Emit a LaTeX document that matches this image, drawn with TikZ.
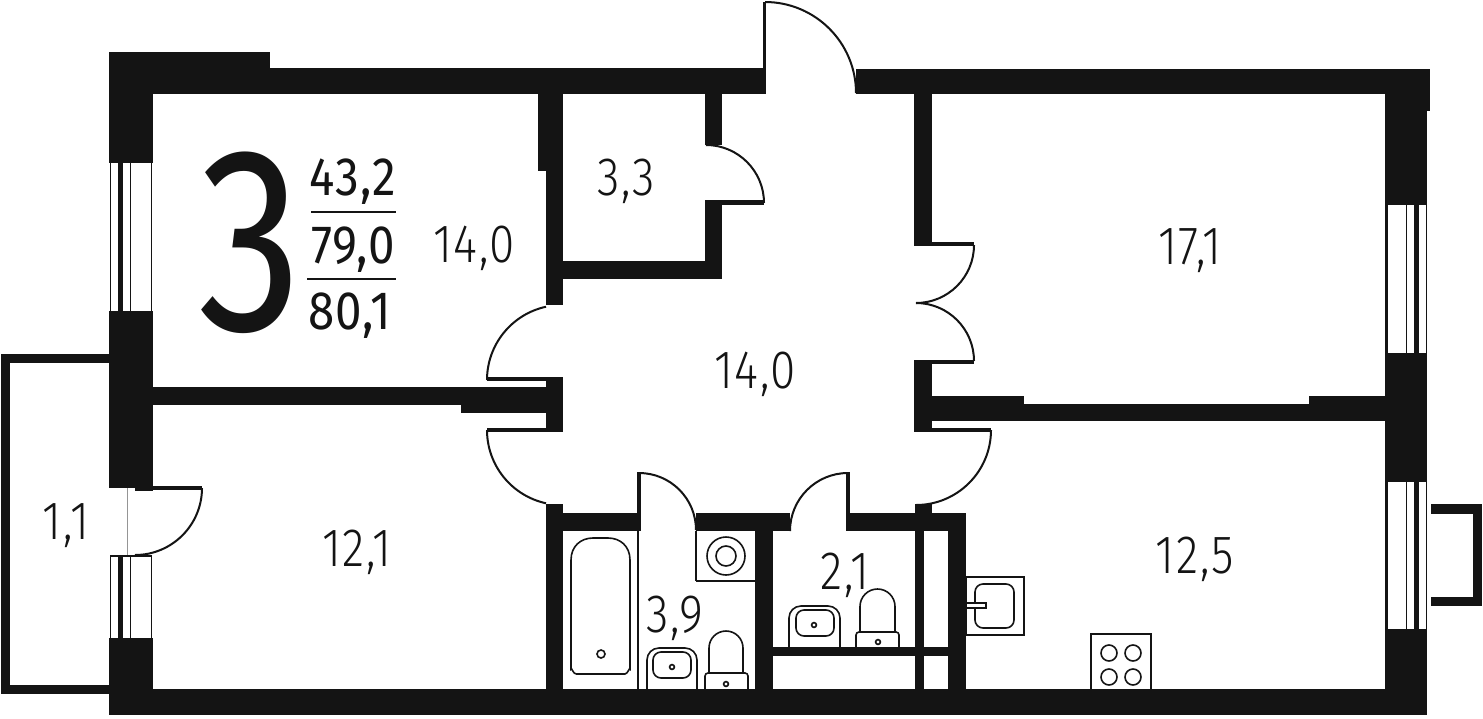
\documentclass[tikz,border=0pt]{standalone}
\usepackage{fontspec}
\newfontfamily\lab[FakeStretch=0.85,LetterSpace=3]{Fira Sans Light}
\newfontfamily\labm[FakeStretch=0.88,LetterSpace=2]{Fira Sans}
\newfontfamily\labbig[FakeStretch=0.79]{Fira Sans}
\definecolor{ink}{HTML}{141414}
\tikzset{
  wall/.style={fill=ink,draw=none},
  leaf/.style={draw=ink,line width=2pt},
  fix/.style={draw=ink,line width=1.6pt},
  thin/.style={draw=ink,line width=1.2pt},
  room/.style={inner sep=0pt,anchor=base,text=ink,font=\lab\fontsize{54}{54}\selectfont},
  area/.style={inner sep=0pt,anchor=base,text=ink,font=\labm\fontsize{54}{54}\selectfont},
}
\newcommand{\Rct}[4]{\fill[wall] (#1,#2) rectangle (#3,#4);}
\begin{document}
\begin{tikzpicture}[x=1pt,y=-1pt]
\useasboundingbox (0,0) rectangle (1483,718);
\fill[white] (0,0) rectangle (1483,718);

% outer walls
\Rct{109}{52}{270}{94}
\Rct{109}{68}{766}{94}
\Rct{856}{69}{1430}{94}
\Rct{1385}{69}{1430}{111}
\Rct{109}{52}{153}{163}
\Rct{109}{311}{153}{488}
\Rct{135}{486}{153}{491}
\Rct{109}{638}{153}{715}
\Rct{109}{689}{1427}{715}
\Rct{1385}{94}{1427}{205}
\Rct{1385}{353}{1427}{482}
\Rct{1385}{629}{1427}{715}

% entrance leaf
\Rct{763}{2}{766}{94}
\draw[leaf] (765,2) arc[start angle=270,end angle=360,radius=91];

% room 14,0 / 3,3 partitions
\Rct{538}{94}{563}{171}
\Rct{546}{171}{563}{305}
\Rct{705}{94}{722}{145}
\Rct{705}{201}{722}{279}
\Rct{563}{261}{722}{279}
\Rct{705}{200}{764}{205}
\draw[leaf] (706,145) arc[start angle=270,end angle=360,radius=58];

% left bedroom partition
\Rct{153}{387}{546}{405}
\Rct{461}{387}{546}{413}
\Rct{546}{377}{563}{432}
\Rct{487}{377}{546}{381}
\Rct{487}{428}{546}{432}
\draw[leaf] (487,380) arc[start angle=180,end angle=257.7,radius=75];
\draw[leaf] (487,430) arc[start angle=180,end angle=102.3,radius=75];

% right hall wall
\Rct{914}{94}{932}{245}
\Rct{914}{242}{974}{246}
\Rct{914}{360}{932}{432}
\Rct{932}{360}{974}{364}
\Rct{932}{428}{991}{432}
\Rct{932}{396}{1024}{421}
\Rct{1024}{404}{1385}{421}
\Rct{1309}{396}{1385}{421}
\draw[leaf] (974,245) arc[start angle=0,end angle=90,radius=58];
\draw[leaf] (916,303) arc[start angle=270,end angle=360,radius=58];
\draw[leaf] (991,430) arc[start angle=0,end angle=90,radius=75];

% wet-room block
\Rct{546}{504}{563}{689}
\Rct{546}{513}{640}{531}
\Rct{637}{472}{641}{531}
\draw[leaf] (639,473) arc[start angle=270,end angle=360,radius=57];
\Rct{696}{513}{790}{531}
\Rct{755}{513}{773}{689}
\Rct{846}{472}{850}{531}
\draw[leaf] (848,473) arc[start angle=270,end angle=180,radius=58];
\Rct{846}{513}{966}{531}
\Rct{915}{504}{932}{531}
\Rct{915}{513}{924}{689}
\Rct{948}{513}{966}{689}
\Rct{773}{647}{948}{656}

% balcony left
\Rct{1}{354}{109}{363}
\Rct{1}{354}{10}{694}
\Rct{1}{685}{109}{694}
\draw[draw=ink!45,line width=0.8pt] (127,488) -- (127,556);
\draw[leaf] (202,488) arc[start angle=0,end angle=90,radius=67];
\Rct{135}{486}{202}{490}

% balcony right
\Rct{1431}{504}{1482}{514}
\Rct{1473}{504}{1482}{606}
\Rct{1431}{597}{1482}{606}

% windows, left
\foreach \ya/\yb in {163/311,556/638}{
  \draw[thin] (110.5,\ya) -- (110.5,\yb);
  \fill[ink] (118,\ya) rectangle (123,\yb);
  \draw[thin] (130.5,\ya) -- (130.5,\yb);
  \draw[thin] (151.5,\ya) -- (151.5,\yb);
}
\draw[thin] (110,556) -- (152,556);
% windows, right
\foreach \ya/\yb in {205/353,482/629}{
  \fill[ink] (1385,\ya) rectangle (1387.5,\yb);
  \draw[thin] (1406.5,\ya) -- (1406.5,\yb);
  \fill[ink] (1414,\ya) rectangle (1419,\yb);
  \draw[thin] (1426.5,\ya) -- (1426.5,\yb);
}

% bathroom fixtures
\draw[thin] (638,531) -- (638,689);
\draw[fix] (576,674) -- (625,674) to[out=0,in=90] (630,669) -- (630,560)
   .. controls (630,546) and (620,538) .. (608,538) -- (593,538)
   .. controls (581,538) and (571,546) .. (571,560) -- (571,669) to[out=90,in=180] (576,674);
\draw[fix] (601,654) circle[radius=4];
\draw[fix] (696,581) -- (755,581);
\draw[fix] (696,531) -- (696,581);
\draw[fix] (726,556) circle[radius=19];
\draw[fix] (726,556) circle[radius=10];

% sink 1
\draw[fix] (647,689) -- (647,660) arc[start angle=180,end angle=270,radius=12] -- (685,648) arc[start angle=270,end angle=360,radius=12] -- (697,689);
\draw[fix,rounded corners=8pt] (653,652) rectangle (691,678);
\draw[fix] (672,667) circle[radius=2.4];
% toilet 1
\draw[fix] (709,673) -- (709,648) arc[start angle=180,end angle=360,radius=17] -- (743,673);
\draw[fix,rounded corners=3pt] (705,689) -- (705,673) -- (748,673) -- (748,689);
\draw[fix] (726,684) circle[radius=2.4];
% sink 2
\draw[fix] (789,647) -- (789,618) arc[start angle=180,end angle=270,radius=12] -- (828,606) arc[start angle=270,end angle=360,radius=12] -- (840,647);
\draw[fix,rounded corners=8pt] (796,610) rectangle (834,636);
\draw[fix] (814,625) circle[radius=2.4];
% toilet 2
\draw[fix] (860,632) -- (860,606.5) arc[start angle=180,end angle=360,radius=17.5] -- (895,632);
\draw[fix,rounded corners=3pt] (856,647) -- (856,632) -- (899,632) -- (899,647);
\draw[fix] (878,642) circle[radius=2.4];

% kitchen
\draw[thin] (966,577) rectangle (1024,635);
\draw[fix,rounded corners=8pt] (975,584) rectangle (1014,628);
\draw[thin,fill=white] (966,603) rectangle (986,608);
\draw[thin] (1091,689) -- (1091,634) -- (1151,634) -- (1151,689);
\foreach \cx in {1109,1133}\foreach \cy in {653,677}{
  \draw[fix] (\cx,\cy) circle[radius=8];
}

% summary lines
\draw[draw=ink,line width=1.2pt] (311,212) -- (396,212);
\draw[draw=ink,line width=1.2pt] (307,279) -- (396,279);

% texts
\node[inner sep=0pt,anchor=base,text=ink,font=\labbig\fontsize{263}{263}\selectfont] (rooms) at (250,330) {3};
\node[area] (living) at (353,195) {43,2};
\node[area] (total) at (353,263) {79,0};
\node[area] (totalb) at (350,329) {80,1};
\node[room] (r1) at (474,262) {14,0};
\node[room] (r2) at (626,195) {3,3};
\node[room] (r3) at (1190,264) {17,1};
\node[room] (r4) at (755,388) {14,0};
\node[room] (r5) at (66,539) {1,1};
\node[room] (r6) at (357,566) {12,1};
\node[room] (r7) at (845,589) {2,1};
\node[room] (r8) at (675,632) {3,9};
\node[room] (r9) at (1195,573) {12,5};
\end{tikzpicture}
\end{document}
